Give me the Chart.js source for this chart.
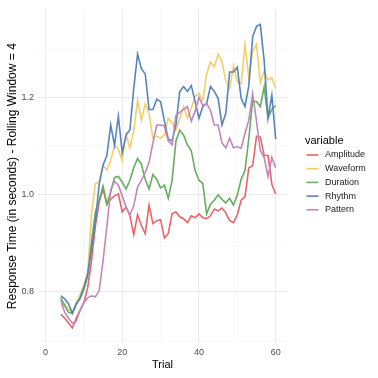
<!DOCTYPE html>
<html>
<head>
<meta charset="utf-8">
<script src="https://cdn.jsdelivr.net/npm/chart.js@4.4.0/dist/chart.umd.min.js"></script>
<style>
html,body{margin:0;padding:0;background:#fff;}
#c{display:block;}
</style>
</head>
<body>
<canvas id="c" width="378" height="378"></canvas>
<script>
const trials = [4,5,6,7,8,9,10,11,12,13,14,15,16,17,18,19,20,21,22,23,24,25,26,27,28,29,30,31,32,33,34,35,36,37,38,39,40,41,42,43,44,45,46,47,48,49,50,51,52,53,54,55,56,57,58,59,60];

const amplitude = [0.753,0.745,0.735,0.725,0.745,0.761,0.777,0.808,0.863,0.934,0.984,1.011,0.980,0.990,0.997,1.001,0.964,0.974,0.956,0.917,0.958,0.936,0.919,0.978,0.940,0.946,0.948,0.910,0.919,0.960,0.964,0.954,0.950,0.942,0.956,0.952,0.960,0.952,0.950,0.956,0.970,0.966,0.972,0.962,0.946,0.942,0.958,0.988,0.995,1.055,1.059,1.120,1.118,1.080,1.080,1.021,1.001];

const waveform = [0.771,0.775,0.763,0.757,0.777,0.793,0.814,0.838,0.960,1.022,1.026,1.060,1.050,1.070,1.101,1.093,1.070,1.123,1.096,1.131,1.193,1.153,1.187,1.167,1.116,1.120,1.116,1.122,1.157,1.147,1.133,1.157,1.181,1.157,1.177,1.202,1.208,1.193,1.248,1.273,1.263,1.289,1.273,1.234,1.218,1.265,1.232,1.228,1.309,1.240,1.295,1.309,1.230,1.254,1.236,1.240,1.218];

const duration = [0.787,0.771,0.757,0.755,0.775,0.785,0.804,0.832,0.903,0.964,0.988,1.017,0.980,1.005,1.035,1.037,1.025,1.011,1.029,1.055,1.074,1.062,1.031,1.011,1.041,1.031,1.013,1.019,0.992,1.029,1.110,1.132,1.122,1.102,1.090,1.049,1.029,1.023,0.960,0.980,0.988,0.999,0.990,0.982,0.992,0.978,0.999,1.031,1.049,1.116,1.193,1.191,1.181,1.222,1.157,1.175,1.183];

const rhythm = [0.791,0.785,0.775,0.755,0.773,0.787,0.808,0.836,0.887,0.944,1.021,1.060,1.080,1.143,1.101,1.161,1.086,1.122,1.133,1.218,1.289,1.259,1.248,1.175,1.175,1.196,1.191,1.151,1.114,1.110,1.143,1.212,1.222,1.212,1.224,1.191,1.157,1.181,1.187,1.222,1.212,1.198,1.143,1.167,1.252,1.252,1.262,1.198,1.181,1.224,1.325,1.346,1.350,1.275,1.157,1.204,1.114];

const pattern = [0.783,0.757,0.745,0.735,0.739,0.761,0.777,0.787,0.791,0.789,0.802,0.863,0.934,1.009,1.027,1.019,0.997,0.974,0.958,0.976,1.015,1.029,1.045,1.066,1.106,1.143,1.143,1.141,1.110,1.102,1.163,1.169,1.175,1.181,1.151,1.171,1.200,1.183,1.187,1.173,1.143,1.143,1.106,1.096,1.116,1.096,1.098,1.095,1.126,1.153,1.208,1.151,1.090,1.076,1.037,1.076,1.055];

const seriesNames = ["Amplitude","Waveform","Duration","Rhythm","Pattern"];
const seriesValues = [amplitude, waveform, duration, rhythm, pattern];
const seriesColors = ["#E8646A","#F4CE6A","#66AD5F","#5585BE","#C088BC"];

const yTicks = [0.7,0.8,0.9,1.0,1.1,1.2,1.3];
const xTicks = [0,10,20,30,40,50,60];

const FONT = '"Liberation Sans", Arial, Helvetica, sans-serif';

const datasets = seriesNames.map((name, i) => ({
  label: name,
  data: trials.map((t, j) => ({x: t, y: seriesValues[i][j]})),
  borderColor: seriesColors[i],
  backgroundColor: seriesColors[i],
  borderWidth: 1.6,
  pointRadius: 0,
  pointHoverRadius: 0,
  tension: 0,
  fill: false,
  order: seriesNames.length - i
}));

const isMajorY = v => Math.round(v * 10) % 2 === 0;
const isMajorX = v => Math.round(v) % 20 === 0;

const legendPlugin = {
  id: 'ggLegend',
  afterDraw(chart) {
    const ctx = chart.ctx;
    ctx.save();
    ctx.textBaseline = 'middle';
    ctx.textAlign = 'left';
    ctx.fillStyle = '#000';
    ctx.font = '11px ' + FONT;
    ctx.fillText('variable', 305, 141);
    ctx.font = '9px ' + FONT;
    chart.data.datasets.forEach((ds, i) => {
      const y = 155 + i * 13.7;
      ctx.strokeStyle = ds.borderColor;
      ctx.lineWidth = 1.6;
      ctx.beginPath();
      ctx.moveTo(306.5, y);
      ctx.lineTo(318.5, y);
      ctx.stroke();
      ctx.fillStyle = '#1A1A1A';
      ctx.fillText(ds.label, 325, y);
    });
    ctx.restore();
  }
};

new Chart(document.getElementById('c'), {
  type: 'line',
  data: { datasets },
  options: {
    responsive: false,
    animation: false,
    devicePixelRatio: 1,
    parsing: true,
    layout: { padding: { left: 0, right: 91, top: 5, bottom: 0 } },
    plugins: {
      legend: { display: false },
      tooltip: { enabled: false },
      title: { display: false }
    },
    scales: {
      x: {
        type: 'linear',
        min: -1.95,
        max: 62.95,
        afterBuildTicks: s => { s.ticks = xTicks.map(v => ({value: v})); },
        afterFit: s => { s.height = 35; },
        border: { display: false },
        grid: {
          drawTicks: false,
          color: c => (c.tick && isMajorX(c.tick.value)) ? '#EBEBEB' : '#F4F4F4',
          lineWidth: c => (c.tick && isMajorX(c.tick.value)) ? 1.1 : 0.6
        },
        ticks: {
          padding: 4,
          color: '#4D4D4D',
          font: { family: FONT, size: 9 },
          maxRotation: 0,
          autoSkip: false,
          callback: v => isMajorX(v) ? String(v) : ''
        },
        title: {
          display: true,
          text: 'Trial',
          color: '#000',
          font: { family: FONT, size: 11 },
          padding: { top: 0, bottom: 6 }
        }
      },
      y: {
        type: 'linear',
        min: 0.694,
        max: 1.381,
        afterBuildTicks: s => { s.ticks = yTicks.map(v => ({value: v})); },
        afterFit: s => { s.width = 38; },
        border: { display: false },
        grid: {
          drawTicks: false,
          color: c => (c.tick && isMajorY(c.tick.value)) ? '#EBEBEB' : '#F4F4F4',
          lineWidth: c => (c.tick && isMajorY(c.tick.value)) ? 1.1 : 0.6
        },
        ticks: {
          padding: 4,
          color: '#4D4D4D',
          font: { family: FONT, size: 9 },
          autoSkip: false,
          callback: v => isMajorY(v) ? v.toFixed(1) : ''
        },
        title: {
          display: true,
          text: 'Response Time (in seconds) - Rolling Window = 4',
          color: '#000',
          font: { family: FONT, size: 12 },
          padding: { top: 5, bottom: 0 }
        }
      }
    }
  },
  plugins: [legendPlugin]
});
</script>
</body>
</html>
